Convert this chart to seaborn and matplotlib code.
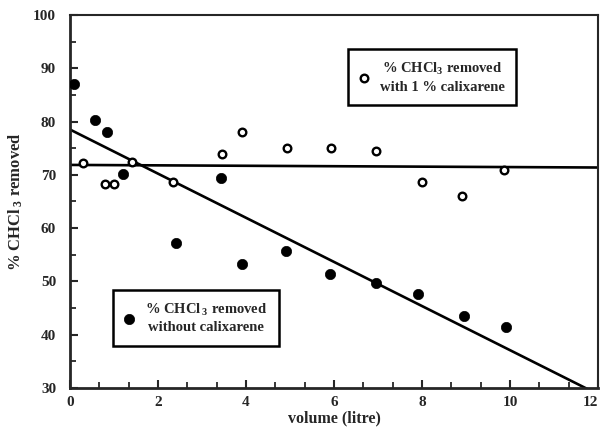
import numpy as np
import matplotlib
matplotlib.use("Agg")
import matplotlib.pyplot as plt
from matplotlib.ticker import MultipleLocator
import seaborn as sns

# ── data ─────────────────────────────────────────────────────────────────
vol_with = [0.3, 0.8, 1.0, 1.4, 2.35, 3.45, 3.92, 4.94, 5.93, 6.95, 7.99, 8.9, 9.86]
rem_with = [72.2, 68.2, 68.2, 72.4, 68.7, 74.0, 78.1, 75.0, 75.0, 74.4, 68.6, 66.1, 71.0]

vol_without = [0.09, 0.57, 0.84, 1.2, 2.4, 3.43, 3.9, 4.9, 5.9, 6.95, 7.9, 8.96, 9.9]
rem_without = [87.0, 80.3, 78.1, 70.2, 57.2, 69.4, 53.2, 55.8, 51.4, 49.7, 47.6, 43.5, 41.4]

label_with = "% CHCl$_3$ removed\nwith 1 % calixarene"
label_without = "% CHCl$\\,_3$ removed\nwithout calixarene"

x_ticks = [0, 2, 4, 6, 8, 10, 12]
y_ticks = [30, 40, 50, 60, 70, 80, 90, 100]


def main():
    sns.set_style("ticks")
    plt.rcParams["font.family"] = ["Liberation Serif", "DejaVu Serif"]
    plt.rcParams["font.weight"] = "bold"
    plt.rcParams["mathtext.fontset"] = "custom"
    plt.rcParams["mathtext.rm"] = "Liberation Serif:bold"
    plt.rcParams["mathtext.it"] = "Liberation Serif:bold"
    plt.rcParams["mathtext.bf"] = "Liberation Serif:bold"
    plt.rcParams["mathtext.default"] = "rm"

    fig = plt.figure(figsize=(6.04, 4.30), dpi=100)
    ax = fig.add_axes([0.1159, 0.0977, 0.8742, 0.8674])
    ax.set_xlim(0, 12)
    ax.set_ylim(30, 100)

    # ── fitted lines ─────────────────────────────────────────────────────
    line_kws = dict(color="black", lw=1.9, solid_capstyle="butt")
    sns.regplot(x=vol_with, y=rem_with, ax=ax, scatter=False, ci=None,
                truncate=False, line_kws=line_kws)
    sns.regplot(x=vol_without, y=rem_without, ax=ax, scatter=False, ci=None,
                truncate=False, line_kws=line_kws)

    # ── points ───────────────────────────────────────────────────────────
    sns.scatterplot(x=vol_with, y=rem_with, ax=ax, marker="o", s=30,
                    facecolor="white", edgecolor="black", linewidth=1.7,
                    label=label_with, zorder=4)
    sns.scatterplot(x=vol_without, y=rem_without, ax=ax, marker="o", s=55,
                    color="black", edgecolor="black", linewidth=0.5,
                    label=label_without, zorder=4)

    ax.set_xlim(0, 12)
    ax.set_ylim(30, 100)

    # ── axes styling ─────────────────────────────────────────────────────
    ax.set_xticks(x_ticks)
    ax.set_yticks(y_ticks)
    ax.xaxis.set_minor_locator(MultipleLocator(2 / 3))
    ax.yaxis.set_minor_locator(MultipleLocator(5))
    ax.tick_params(which="major", direction="in", length=6, width=1.5,
                   labelsize=11, top=False, right=False)
    ax.tick_params(axis="x", which="major", pad=6)
    ax.tick_params(axis="y", which="major", pad=10)
    ax.tick_params(which="minor", direction="in", length=4, width=1.3,
                   top=False, right=False)
    for lab in ax.get_xticklabels() + ax.get_yticklabels():
        lab.set_fontweight("bold")
    ax.get_xticklabels()[-1].set_horizontalalignment("right")

    for side in ["left", "bottom"]:
        ax.spines[side].set_linewidth(2.0)
    for side in ["top", "right"]:
        ax.spines[side].set_visible(True)
        ax.spines[side].set_linewidth(1.5)

    ax.set_xlabel("volume (litre)", fontsize=11.5, fontweight="bold", labelpad=1)
    ax.set_ylabel("% CHCl$\\,_3$ removed", fontsize=12, fontweight="bold",
                  labelpad=6)

    # ── two separate legend boxes ────────────────────────────────────────
    handles, labels = ax.get_legend_handles_labels()
    ax.get_legend().remove()
    box = dict(frameon=True, fancybox=False, framealpha=1, edgecolor="black",
               fontsize=10.5, borderaxespad=0, handletextpad=0.8,
               handlelength=0.6, borderpad=0.8, labelspacing=0.4)
    leg1 = ax.legend([handles[0]], [labels[0]], loc="upper left",
                     bbox_to_anchor=(0.526, 0.908), **box)
    leg1.get_frame().set_linewidth(1.8)
    for t in leg1.get_texts():
        t.set_multialignment("center")
        t.set_linespacing(1.35)
    ax.add_artist(leg1)
    leg2 = ax.legend([handles[1]], [labels[1]], loc="upper left",
                     bbox_to_anchor=(0.081, 0.263), **box)
    leg2.get_frame().set_linewidth(1.8)
    for t in leg2.get_texts():
        t.set_multialignment("center")
        t.set_linespacing(1.35)

    fig.savefig("out.png", dpi=100)


if __name__ == "__main__":
    main()
